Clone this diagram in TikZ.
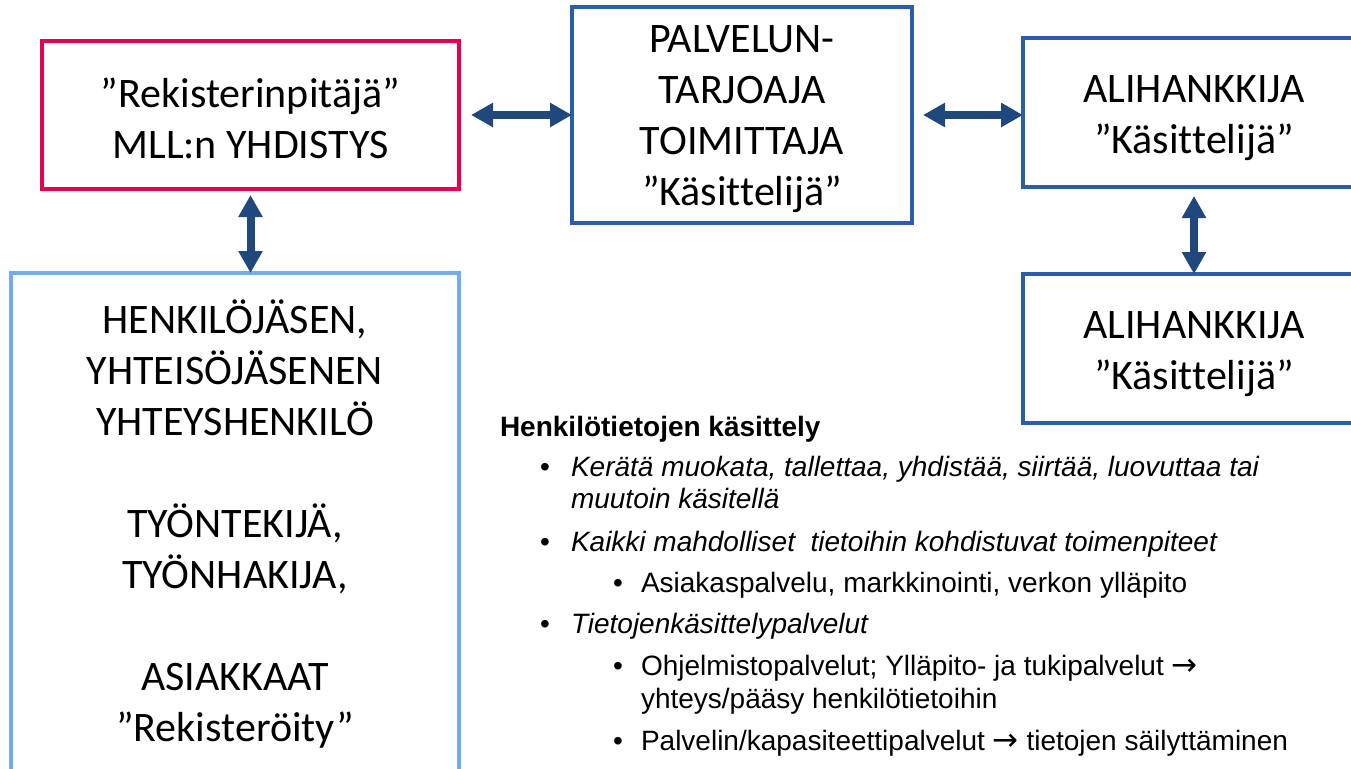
\documentclass[tikz,border=0pt]{standalone}
\usepackage{fontspec}
\usetikzlibrary{arrows.meta}
\newfontfamily\boxfont[Ligatures=NoCommon]{Carlito}
\newfontfamily\arialfont{Liberation Sans}
\newfontfamily\symfont{DejaVu Sans}
\definecolor{regred}{RGB}{230,0,78}
\definecolor{boxblue}{RGB}{43,93,170}
\definecolor{lightblue}{RGB}{112,173,240}
\definecolor{arrnavy}{RGB}{32,72,125}
\newcommand{\rarr}{{\symfont\fontsize{31}{32}\selectfont →}}
\tikzset{
  box/.style={draw, line width=4.5pt, rectangle, outer sep=0pt, inner sep=0pt, align=center,
    font=\boxfont\fontsize{42}{51}\selectfont, text=black},
  dblarrow/.style={draw=arrnavy, line width=8pt,
    {Triangle[length=22pt,width=23pt]}-{Triangle[length=22pt,width=23pt]}},
  txt/.style={anchor=base west, inner sep=0pt, outer sep=0pt, font=\arialfont\fontsize{28}{32}\selectfont, text=black},
  bul/.style={anchor=base, inner sep=0pt, outer sep=0pt, font=\arialfont\fontsize{28}{32}\selectfont, text=black}
}
\begin{document}
\begin{tikzpicture}[x=1pt,y=-1pt]
\useasboundingbox (0,0) rectangle (1351,768);
\clip (0,0) rectangle (1351,768);
\fill[white] (0,0) rectangle (1351,768);

% boxes
\node[box, draw=regred, minimum width=417pt, minimum height=148pt] (r) at (250.5,115)
  {\rule{0pt}{37pt}”Rekisterinpitäjä”\\MLL:n YHDISTYS};
\node[box, draw=boxblue, minimum width=340pt, minimum height=216pt] (m) at (742,115)
  {\rule{0pt}{35pt}PALVELUN-\\TARJOAJA\\TOIMITTAJA\\”Käsittelijä”};
\node[box, draw=boxblue, minimum width=342pt, minimum height=149pt] (rt) at (1194,112.5)
  {\rule{0pt}{39pt}ALIHANKKIJA\\”Käsittelijä”};
\node[box, draw=boxblue, minimum width=342pt, minimum height=149pt] (rb) at (1194,348.5)
  {\rule{0pt}{39pt}ALIHANKKIJA\\”Käsittelijä”};
\node[box, draw=lightblue, minimum width=448pt, inner ysep=27pt, anchor=north] (lb) at (235,273)
  {HENKILÖJÄSEN,\\YHTEISÖJÄSENEN\\YHTEYSHENKILÖ\\[51pt]TYÖNTEKIJÄ,\\TYÖNHAKIJA,\\[51pt]ASIAKKAAT\\”Rekisteröity”};

% connectors
\draw[dblarrow] ([xshift=12pt]r.east) -- (m.west);
\draw[dblarrow] ([xshift=11pt]m.east) -- (m.east -| rt.west);
\draw[dblarrow] ([yshift=-6pt]r.south) -- (r.south |- lb.north);
\draw[dblarrow] ([yshift=-9pt]rt.south) -- (rb.north);

% text block
\node[txt, font=\arialfont\bfseries\fontsize{28}{32}\selectfont] (head) at (500,436) {Henkilötietojen käsittely};
\node[bul] (b1) at (545,476) {•};
\node[txt, font=\arialfont\itshape\fontsize{28}{32}\selectfont] (t1) at (571,476) {Kerätä muokata, tallettaa, yhdistää, siirtää, luovuttaa tai};
\node[txt, font=\arialfont\itshape\fontsize{28}{32}\selectfont] (t1b) at (571,508) {muutoin käsitellä};
\node[bul] (b2) at (545,551) {•};
\node[txt, font=\arialfont\itshape\fontsize{28}{32}\selectfont] (t2) at (571,551) {Kaikki mahdolliset\ \ tietoihin kohdistuvat toimenpiteet};
\node[bul] (s1) at (618,592) {•};
\node[txt] (u1) at (641,592) {Asiakaspalvelu, markkinointi, verkon ylläpito};
\node[bul] (b3) at (545,633) {•};
\node[txt, font=\arialfont\itshape\fontsize{28}{32}\selectfont] (t3) at (571,633) {Tietojenkäsittelypalvelut};
\node[bul] (s2) at (618,675) {•};
\node[txt] (u2) at (641,675) {Ohjelmistopalvelut; Ylläpito- ja tukipalvelut \rarr};
\node[txt] (u2b) at (641,708) {yhteys/pääsy henkilötietoihin};
\node[bul] (s3) at (618,750) {•};
\node[txt] (u3) at (641,750) {Palvelin/kapasiteettipalvelut \rarr\ tietojen säilyttäminen};
\end{tikzpicture}
\end{document}
